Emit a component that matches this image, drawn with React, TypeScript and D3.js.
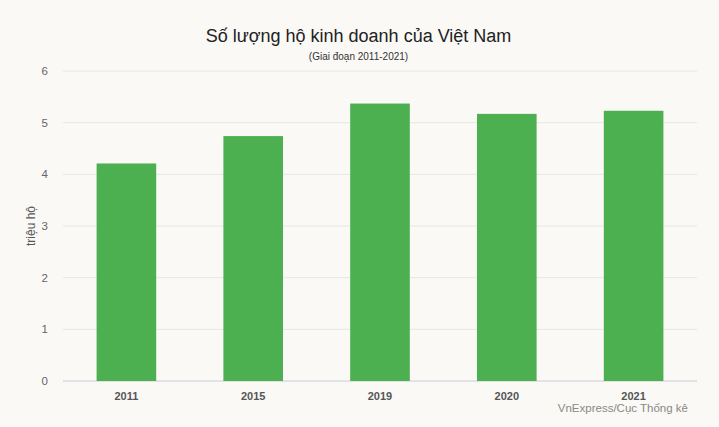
import { useEffect, useRef } from "react";
import * as d3 from "d3";

const YEARS = ["2011", "2015", "2019", "2020", "2021"];
const HOUSEHOLDS = [4.21, 4.74, 5.37, 5.17, 5.23]; // triệu hộ
const Y_TICKS = [0, 1, 2, 3, 4, 5, 6];

const W = 719;
const H = 427;
const FONT = "Arial, 'Liberation Sans', sans-serif";

export default function App() {
  const svgRef = useRef<SVGSVGElement>(null);

  useEffect(() => {
    document.body.style.margin = "0";
    const svg = d3.select(svgRef.current);
    svg.selectAll("*").remove();

    const mg = { t: 71, r: 22, b: 46, l: 63 };
    const IW = W - mg.l - mg.r;
    const IH = H - mg.t - mg.b;

    svg.append("rect").attr("width", W).attr("height", H).attr("fill", "#faf9f6");

    const x = d3.scaleBand().domain(YEARS).range([0, IW]).paddingInner(0.53).paddingOuter(0.265);
    const y = d3.scaleLinear().domain([0, 6]).range([IH, 0]);

    const root = svg.append("g").attr("transform", `translate(${mg.l},${mg.t})`);

    // grid
    root.selectAll("line.grid").data(Y_TICKS).enter().append("line")
      .attr("x1", 0).attr("x2", IW)
      .attr("y1", d => y(d)).attr("y2", d => y(d))
      .attr("stroke", d => (d === 0 ? "#c9ccd6" : "#e6e6e3")).attr("stroke-width", 1);

    // y ticks
    root.selectAll("text.ytick").data(Y_TICKS).enter().append("text")
      .attr("x", -15).attr("y", d => y(d)).attr("dy", "0.35em")
      .attr("text-anchor", "end").attr("font-family", FONT).attr("font-size", 11.5)
      .attr("fill", "#666").text(d => d);

    // bars
    root.selectAll("rect.bar").data(HOUSEHOLDS).enter().append("rect")
      .attr("x", (_, i) => x(YEARS[i])!).attr("width", x.bandwidth())
      .attr("y", d => y(d)).attr("height", d => IH - y(d))
      .attr("fill", "#4caf50");

    // x labels
    root.selectAll("text.xtick").data(YEARS).enter().append("text")
      .attr("x", d => x(d)! + x.bandwidth() / 2).attr("y", IH + 19)
      .attr("text-anchor", "middle").attr("font-family", FONT).attr("font-size", 11)
      .attr("font-weight", "bold").attr("fill", "#555").text(d => d);

    // y axis label
    svg.append("text").attr("transform", `translate(35,${mg.t + IH / 2}) rotate(-90)`)
      .attr("text-anchor", "middle").attr("font-family", FONT).attr("font-size", 12)
      .attr("fill", "#555").text("triệu hộ");

    // titles
    svg.append("text").attr("x", W / 2 - 1).attr("y", 42).attr("text-anchor", "middle")
      .attr("font-family", FONT).attr("font-size", 18).attr("fill", "#222")
      .text("Số lượng hộ kinh doanh của Việt Nam");
    svg.append("text").attr("x", W / 2 - 1).attr("y", 60).attr("text-anchor", "middle")
      .attr("font-family", FONT).attr("font-size", 10).attr("fill", "#333")
      .text("(Giai đoạn 2011-2021)");

    // source
    svg.append("text").attr("x", 688).attr("y", 412).attr("text-anchor", "end")
      .attr("font-family", FONT).attr("font-size", 11.5).attr("fill", "#888")
      .text("VnExpress/Cục Thống kê");
  }, []);

  return <svg ref={svgRef} width={W} height={H} style={{ display: "block" }} />;
}
